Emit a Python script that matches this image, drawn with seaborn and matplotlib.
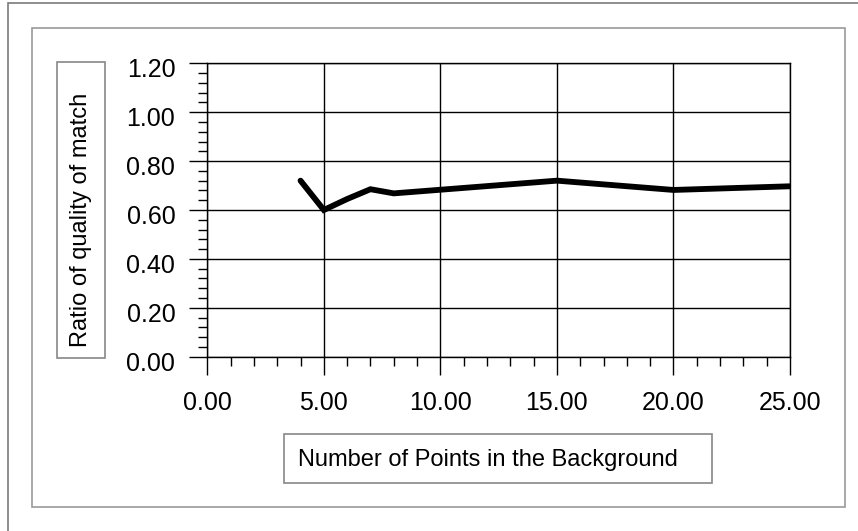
"""Ratio of quality of match vs number of background points (Excel-style line chart)."""

import matplotlib

matplotlib.use("Agg")
import matplotlib.pyplot as plt
import pandas as pd
import seaborn as sns
from matplotlib.patches import Rectangle
from matplotlib.ticker import FormatStrFormatter, MultipleLocator
from matplotlib.transforms import ScaledTranslation

sns.set_theme(style="white")
plt.rcParams["font.family"] = ["Liberation Sans", "DejaVu Sans"]

# data
n_points = [4, 5, 6, 7, 8, 15, 20, 25]
ratio = [0.72, 0.60, 0.645, 0.685, 0.668, 0.72, 0.682, 0.697]

x_label = "Number of Points in the Background"
y_label = "Ratio of quality of match"

W, H = 858, 531

df = pd.DataFrame({"n_points": n_points, "ratio": ratio})

fig = plt.figure(figsize=(W / 100, H / 100), dpi=100)
fig.patch.set_facecolor("white")


def px_box(x0, y0, x1, y1):
    """Convert pixel box (top-left origin) to figure fraction [l, b, w, h]."""
    return [x0 / W, 1 - y1 / H, (x1 - x0) / W, (y1 - y0) / H]


# frames around the chart area
for (x0, y0, x1, y1), col in [((8, 3, 880, 560), "#7a7a7a"), ((32, 28, 845, 507), "#9a9a9a")]:
    l, b, w, h = px_box(x0, y0, x1, y1)
    fig.patches.append(Rectangle((l, b), w, h, transform=fig.transFigure,
                                 fill=False, edgecolor=col, linewidth=1.2))

ax = fig.add_axes(px_box(207.3, 63.3, 790, 356.7))
sns.lineplot(data=df, x="n_points", y="ratio", ax=ax, color="black",
             linewidth=4.2, solid_joinstyle="miter")

ax.set_xlim(0, 25)
ax.set_ylim(0, 1.2)
ax.xaxis.set_major_locator(MultipleLocator(5))
ax.xaxis.set_minor_locator(MultipleLocator(1))
ax.yaxis.set_major_locator(MultipleLocator(0.2))
ax.yaxis.set_minor_locator(MultipleLocator(0.04))
ax.xaxis.set_major_formatter(FormatStrFormatter("%.2f"))
ax.yaxis.set_major_formatter(FormatStrFormatter("%.2f"))

ax.grid(True, which="major", color="black", linewidth=1.0)
ax.set_axisbelow(True)
for sp in ax.spines.values():
    sp.set_color("black")
    sp.set_linewidth(1.0)

ax.tick_params(which="major", direction="out", length=13, width=1.0, color="black",
               labelsize=18, labelcolor="black")
ax.tick_params(which="minor", direction="out", length=6.5, width=1.0, color="black")
ax.tick_params(axis="x", which="both", bottom=True, pad=12)
ax.tick_params(axis="y", which="both", left=True, pad=10)
ax.set_xlabel("")
ax.set_ylabel("")

# y tick labels sit a little below their gridlines in the original
shift = ScaledTranslation(0, -4.5 / 100, fig.dpi_scale_trans)
for tick in ax.yaxis.get_major_ticks():
    tick.label1.set_transform(tick.label1.get_transform() + shift)

# axis titles in boxes
l, b, w, h = px_box(57, 62, 105, 358)
fig.patches.append(Rectangle((l, b), w, h, transform=fig.transFigure,
                             fill=False, edgecolor="#888888", linewidth=1.2))
fig.text(81 / W, 1 - 220 / H, y_label, rotation=90, ha="center", va="center",
         fontsize=17, color="black")

l, b, w, h = px_box(284, 434, 712, 483)
fig.patches.append(Rectangle((l, b), w, h, transform=fig.transFigure,
                             fill=False, edgecolor="#888888", linewidth=1.2))
fig.text(298 / W, 1 - 460 / H, x_label, ha="left", va="center",
         fontsize=17, color="black")

fig.savefig("out.png", dpi=100)
plt.close(fig)
